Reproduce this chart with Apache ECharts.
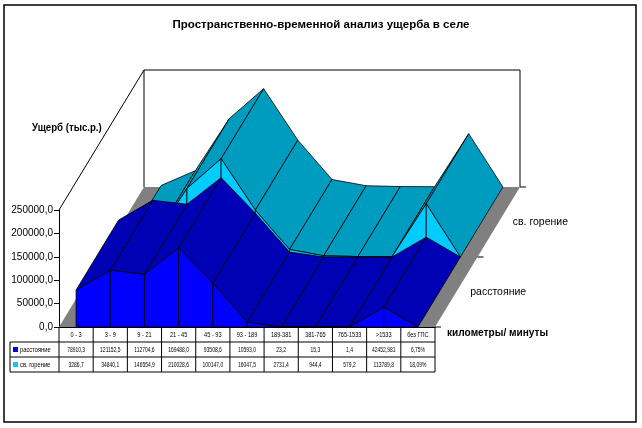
<!DOCTYPE html>
<html>
<head>
<meta charset="utf-8">
<style>
  body { margin: 0; background: #fff; }
  #main { width: 642px; height: 428px; }
</style>
</head>
<body>
<div id="main"></div>
<script src="https://cdn.jsdelivr.net/npm/echarts@6.0.0/dist/echarts.min.js"></script>
<script>
// data
var categories = ['0 - 3', '3 - 9', '9 - 21', '21 - 45', '45 - 93', '93 - 189', '189-381', '381-765', '765-1533', '>1533', 'без ГПС'];
var distance = [78910.3, 121152.5, 112704.6, 169488.0, 93508.6, 10593.0, 23.2, 15.3, 1.4, 42452.981, 0.0675];
var burning = [3286.7, 34840.1, 146554.9, 210028.6, 100147.0, 16047.5, 2731.4, 944.4, 579.2, 113789.8, 0.1809];
var seriesNames = ['расстояние', 'св. горение'];
var yMax = 250000, yStep = 50000;

var FONT = '"Liberation Sans", Arial, sans-serif';
// pixel offset of the back plane of the 3d box (depth = 1)
var DX = 85, DY = -140;
function shift(p, d) { return [p[0] + DX * d, p[1] + DY * d]; }

function fmt(v, i) {
    if (i === categories.length - 1) return (v * 100).toFixed(2).replace('.', ',') + '%';
    var s = String(v);
    if (s.indexOf('.') < 0) s += '.0';
    return s.replace('.', ',');
}

function txt(x, y, s, size, align, sx, weight) {
    return {
        type: 'text', x: x, y: y, scaleX: sx || 1,
        style: { text: s, fill: '#000', fontSize: size, fontFamily: FONT, fontWeight: weight || 'normal',
                 align: align || 'center', verticalAlign: 'middle' }
    };
}
function seg(p, q, color) {
    return { type: 'line', shape: { x1: p[0], y1: p[1], x2: q[0], y2: q[1] }, style: { stroke: color || '#000', lineWidth: 1 } };
}

// one ribbon of the 3d area chart, between depth d0 and d1
function ribbon(name, values, d0, d1, topColor, frontColor, z) {
    var data = [];
    for (var i = 0; i < values.length - 1; i++) data.push([i, values[i], values[i + 1]]);
    return {
        type: 'custom', name: name, data: data, z: z, clip: false, silent: true,
        encode: { x: 0, y: [1, 2] },
        renderItem: function (params, api) {
            var i = api.value(0);
            var a = api.coord([i, api.value(1)]), b = api.coord([i + 1, api.value(2)]);
            var a0 = api.coord([i, 0]), b0 = api.coord([i + 1, 0]);
            return {
                type: 'group', children: [
                    { type: 'polygon', shape: { points: [shift(a, d0), shift(b, d0), shift(b, d1), shift(a, d1)] },
                      style: { fill: topColor, stroke: '#000', lineWidth: 0.8 } },
                    { type: 'polygon', shape: { points: [shift(a0, d0), shift(a, d0), shift(b, d0), shift(b0, d0)] },
                      style: { fill: frontColor, stroke: '#000', lineWidth: 0.8 } }
                ]
            };
        }
    };
}

// floor, walls, depth axis
var frameSeries = {
    type: 'custom', data: [[0]], z: 1, clip: false, silent: true, encode: { x: 0 },
    renderItem: function (params, api) {
        var w = api.size([1, 0])[0];
        var n = categories.length;
        var fl = api.coord([0, 0]); fl = [fl[0] - w / 2, fl[1]];
        var fr = api.coord([n - 1, 0]); fr = [fr[0] + w / 2, fr[1]];
        var tl = api.coord([0, yMax]); tl = [tl[0] - w / 2, tl[1]];
        var tr = [fr[0], tl[1]];
        var ch = [
            { type: 'polygon', shape: { points: [fl, fr, shift(fr, 1), shift(fl, 1)] }, style: { fill: '#808080' } },
            { type: 'polyline', shape: { points: [tl, shift(tl, 1), shift(tr, 1), shift(fr, 1)] }, style: { stroke: '#000', lineWidth: 1, fill: null } },
            seg(shift(tl, 1), shift(fl, 1))
        ];
        [0, 0.5, 1].forEach(function (d) {
            var p = shift(fr, d);
            ch.push(seg(p, [p[0] + 6, p[1]]));
        });
        ch.push(txt(shift(fr, 0.25)[0] + 14, shift(fr, 0.25)[1], seriesNames[0], 10.5, 'left'));
        ch.push(txt(shift(fr, 0.75)[0] + 14, shift(fr, 0.75)[1], seriesNames[1], 10.5, 'left'));
        return { type: 'group', children: ch };
    }
};

// data table under the category axis
var tableSeries = {
    type: 'custom', data: categories.map(function (c, i) { return [i]; }), z: 5, clip: false, silent: true,
    encode: { x: 0 },
    renderItem: function (params, api) {
        var i = api.value(0);
        var c = api.coord([i, 0]), w = api.size([1, 0])[0];
        var x0 = c[0] - w / 2, x1 = c[0] + w / 2, y0 = c[1];
        var rh = 15;
        var ch = [seg([x0, y0], [x0, y0 + 3 * rh])];
        if (i === categories.length - 1) ch.push(seg([x1, y0], [x1, y0 + 3 * rh]));
        for (var r = 1; r <= 3; r++) ch.push(seg([x0, y0 + r * rh], [x1, y0 + r * rh]));
        ch.push(txt(c[0], y0 + rh * 0.5, categories[i], 8, 'center', 0.7));
        ch.push(txt(c[0], y0 + rh * 1.5, fmt(distance[i], i), 8, 'center', 0.62));
        ch.push(txt(c[0], y0 + rh * 2.5, fmt(burning[i], i), 8, 'center', 0.62));
        if (i === 0) {
            var lx = 10;
            ch.push(seg([lx, y0 + rh], [lx, y0 + 3 * rh]));
            for (var k = 1; k <= 3; k++) ch.push(seg([lx, y0 + k * rh], [x0, y0 + k * rh]));
            var cols = ['#0000E0', '#00CCFF'];
            for (var s = 0; s < 2; s++) {
                var ym = y0 + rh * (1.5 + s);
                ch.push({ type: 'rect', shape: { x: lx + 3, y: ym - 2.5, width: 5, height: 5 }, style: { fill: cols[s] } });
                ch.push(txt(lx + 10, ym, seriesNames[s], 8, 'left', 0.72));
            }
        }
        return { type: 'group', children: ch };
    }
};

var option = {
    animation: false,
    backgroundColor: '#fff',
    grid: { left: 59, top: 210, width: 376, height: 117, containLabel: false },
    xAxis: {
        type: 'category', data: categories, boundaryGap: true,
        axisLine: { show: true, lineStyle: { color: '#000', width: 1 } },
        axisTick: { show: false }, axisLabel: { show: false }, splitLine: { show: false }
    },
    yAxis: {
        type: 'value', min: 0, max: yMax, interval: yStep,
        axisLine: { show: true, lineStyle: { color: '#000', width: 1 } },
        axisTick: { show: true, length: 5, lineStyle: { color: '#000' } },
        splitLine: { show: false },
        axisLabel: {
            color: '#000', fontSize: 10, fontFamily: FONT, margin: 6,
            formatter: function (v) { return v.toFixed(1).replace('.', ','); }
        }
    },
    graphic: [
        { type: 'rect', shape: { x: 4, y: 5, width: 632, height: 417 }, style: { fill: null, stroke: '#000', lineWidth: 1.5 }, z: 100 },
        { type: 'text', x: 321, y: 25, style: { text: 'Пространственно-временной анализ ущерба в селе', fill: '#000', fontSize: 11.5, fontWeight: 'bold', fontFamily: FONT, align: 'center', verticalAlign: 'middle' } },
        { type: 'text', x: 32, y: 128, scaleX: 0.92, style: { text: 'Ущерб (тыс.р.)', fill: '#000', fontSize: 10.5, fontWeight: 'bold', fontFamily: FONT, align: 'left', verticalAlign: 'middle' } },
        { type: 'text', x: 447, y: 333, scaleX: 0.88, style: { text: 'километры/ минуты', fill: '#000', fontSize: 11.5, fontWeight: 'bold', fontFamily: FONT, align: 'left', verticalAlign: 'middle' } }
    ],
    series: [
        frameSeries,
        ribbon(seriesNames[1], burning, 0.5, 1, '#009CC0', '#00CCFF', 2),
        ribbon(seriesNames[0], distance, 0, 0.5, '#0000B4', '#0000FF', 3),
        tableSeries
    ]
};

var chart = echarts.init(document.getElementById('main'));
chart.setOption(option);
</script>
</body>
</html>
